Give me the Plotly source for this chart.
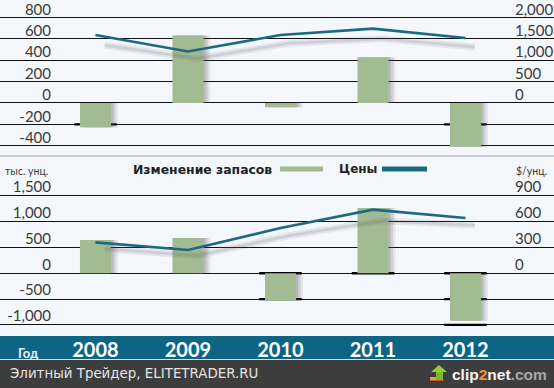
import plotly.graph_objects as go

W, H = 554, 388
years = [2008, 2009, 2010, 2011, 2012]
year_labels = ["2008", "2009", "2010", "2011", "2012"]

top_stock = [-228, 632, -40, 428, -410]
top_price = [1590, 1205, 1590, 1740, 1520]
top_shadow = [1350, 1040, 1400, 1500, 1310]
low_stock = [645, 684, -530, 1265, -918]
low_price = [360, 271, 527, 740, 643]
low_shadow = [285, 205, 440, 610, 560]

top_whisker_years = [2008, 2012]
top_whisker_vals = [-200, -200]
low_whisker_years = [2010, 2010, 2011, 2012, 2012, 2012]
low_whisker_vals = [0, -500, 0, 0, -500, -1000]

top_left_ticks = [-400, -200, 0, 200, 400, 600, 800]
top_left_text = ["-400", "-200", "0", "200", "400", "600", "800"]
top_right_ticks = [0, 500, 1000, 1500, 2000]
top_right_text = ["0", "500", "1,000", "1,500", "2,000"]
low_left_ticks = [-1000, -500, 0, 500, 1000, 1500]
low_left_text = ["-1,000", "-500", "0", "500", "1,000", "1,500"]
low_right_ticks = [0, 300, 600, 900]
low_right_text = ["0", "300", "600", "900"]

GREEN = "#a3bb92"
TEAL = "#1d6a80"
BAND = "#0c6585"
BG = "#f4f7fc"
TXT = "#3a3a3a"
FONT = "Lato"


def px(x):
    return x / W


def py(y):
    return 1 - y / H


fig = go.Figure()
for xa, ya, yb, stock, price, shadow, wy, wv, wh in [
    ("x", "y", "y3", top_stock, top_price, top_shadow, top_whisker_years, top_whisker_vals, 22),
    ("x2", "y2", "y4", low_stock, low_price, low_shadow, low_whisker_years, low_whisker_vals, 46),
]:
    fig.add_bar(x=wy, y=[wh] * len(wy), base=[v - wh / 2 for v in wv], width=0.46,
                marker=dict(color="#000", line_width=0), xaxis=xa, yaxis=ya, showlegend=False)
    for off, op in [(0.075, 0.10), (0.05, 0.14), (0.025, 0.18)]:
        fig.add_bar(x=years, y=stock, width=0.335, offset=-0.1675 + off,
                    marker=dict(color="#555", line_width=0), opacity=op,
                    xaxis=xa, yaxis=ya, showlegend=False)
    fig.add_bar(x=years, y=stock, width=0.335, marker=dict(color=GREEN, line_width=0),
                xaxis=xa, yaxis=ya, showlegend=False)
    sx = [v + 0.1 for v in years]
    fig.add_scatter(x=sx, y=shadow, mode="lines", line=dict(color="rgba(90,90,90,0.10)", width=7),
                    xaxis=xa, yaxis=yb, showlegend=False)
    fig.add_scatter(x=sx, y=shadow, mode="lines", line=dict(color="rgba(90,90,90,0.15)", width=3),
                    xaxis=xa, yaxis=yb, showlegend=False)
    fig.add_scatter(x=years, y=price, mode="lines", line=dict(color=TEAL, width=2.6),
                    xaxis=xa, yaxis=yb, showlegend=False)

xrange_ = [2006.968, 2012.957]
tick = dict(family=FONT, size=15, color=TXT)
grid = dict(showgrid=True, gridcolor="#111", gridwidth=1.3, zeroline=False, showline=False,
            ticks="", anchor="free", tickmode="array", tickfont=tick, ticklabelposition="outside",
            ticklabeloverflow="allow")
right = dict(showgrid=False, zeroline=False, showline=False, ticks="", anchor="free", side="right",
             tickmode="array", tickfont=tick, ticklabelposition="outside", position=px(514),
             ticklabeloverflow="allow")

fig.update_layout(
    width=W, height=H, margin=dict(l=0, r=0, t=0, b=0), autosize=False,
    paper_bgcolor=BG, plot_bgcolor="rgba(0,0,0,0)", barmode="overlay", showlegend=False,
    xaxis=dict(domain=[0, 1], range=xrange_, anchor="y", showticklabels=False, showgrid=False,
               zeroline=False, showline=False, ticks=""),
    xaxis2=dict(domain=[0, 1], range=xrange_, anchor="y2", tickmode="array", tickvals=years,
                ticktext=["<b>%s</b>" % s for s in year_labels], showgrid=False, zeroline=False,
                showline=False, ticks="", tickfont=dict(family=FONT, size=20, color="#fff")),
    yaxis=dict(domain=[py(156), 1], range=[-496, 963], tickvals=top_left_ticks,
               ticktext=top_left_text, position=px(51), ticklabelshift=-8, **grid),
    yaxis3=dict(domain=[py(156), 1], range=[-1240, 2409], overlaying="y", tickvals=top_right_ticks,
                ticktext=top_right_text, ticklabelshift=-8, **right),
    yaxis2=dict(domain=[py(336), py(158)], range=[-1215, 2234], tickvals=low_left_ticks,
                ticktext=low_left_text, position=px(51), ticklabelshift=-9, **grid),
    yaxis4=dict(domain=[py(336), py(158)], range=[-729, 1341], overlaying="y2", tickvals=low_right_ticks,
                ticktext=low_right_text, ticklabelshift=-9, **right),
)


def rect(x0, y0, x1, y1, color, layer="above"):
    fig.add_shape(type="rect", xref="paper", yref="paper", x0=px(x0), x1=px(x1), y0=py(y0), y1=py(y1),
                  fillcolor=color, line_width=0, layer=layer)


def note(x, y, text, size, color, anchor="left", family=FONT):
    fig.add_annotation(xref="paper", yref="paper", x=px(x), y=py(y), text=text, showarrow=False,
                       xanchor=anchor, yanchor="middle", align=anchor,
                       font=dict(family=family, size=size, color=color), borderpad=0, borderwidth=0)


rect(0, 155.5, W, 156.5, "#9aa3ab", "below")
rect(0, 336, W, 359, BAND, "below")
rect(0, 359, W, 360, "#cfe3ea")
rect(0, 360, W, H, "#3d3d3d")
rect(280, 166.5, 323, 171.5, GREEN)
rect(382, 166.5, 427, 171.5, TEAL)
# upload arrow in the footer badge
rect(430, 377, 440, 380, "#e8a33a")
rect(430, 380, 444, 381, "#c9502a")
rect(436, 372, 443, 380, "#79b82e")
fig.add_shape(type="path", xref="paper", yref="paper", fillcolor="#8ccf3a", line_width=0, layer="above",
              path="M %f %f L %f %f L %f %f Z" % (px(431), py(372), px(439), py(365), px(447), py(372)))

note(5, 170.5, "тыс. унц.", 10.5, TXT)
note(516, 170.5, "$/унц.", 10.5, TXT)
note(133, 169, "<b>Изменение запасов</b>", 12.4, "#222", family="DejaVu Sans")
note(339, 168.5, "<b>Цены</b>", 12, "#222", family="DejaVu Sans")
note(18, 353, "<b>Год</b>", 13, "#e8f2f6")
note(10, 373, "Элитный Трейдер, ELITETRADER.RU", 13.4, "#e4e4e4", family="DejaVu Sans")
note(452, 374, "<b>clip<span style='color:#f0922e'>2</span>net<span style='color:#a8a8a8'>.com</span></b>",
     15.5, "#f2f2f2", family="Liberation Sans")

fig.write_html("out.html", config={"displayModeBar": False},
               post_script="document.body.style.margin='0';document.documentElement.style.overflow='hidden';")
